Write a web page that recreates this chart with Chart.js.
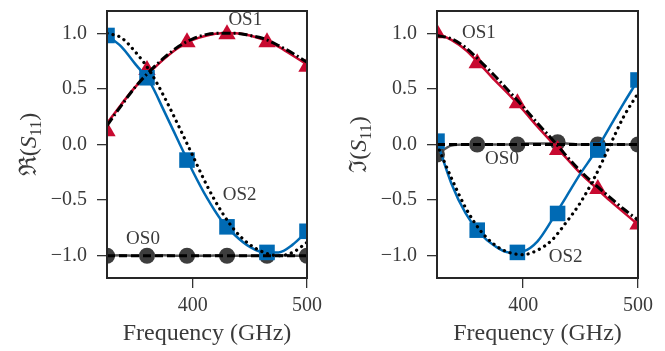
<!DOCTYPE html>
<html>
<head>
<meta charset="utf-8">
<script src="https://cdn.jsdelivr.net/npm/chart.js@4"></script>
<style>
  body { margin: 0; background: #fff; }
  #wrap { position: relative; width: 665px; height: 351px; }
  canvas { position: absolute; top: 0; }
</style>
</head>
<body>
<div id="wrap">
  <canvas id="re" width="330" height="351" style="left:0"></canvas>
  <canvas id="im" width="335" height="351" style="left:330px"></canvas>
</div>
<script>
// frequency grid of the curves (GHz) and of the markers
const freq = [325, 337.5, 350, 362.5, 375, 387.5, 400, 412.5, 425, 437.5, 450, 462.5, 475, 487.5, 500];
const markFreq = [325, 360, 395, 430, 465, 500];
const xTicks = [400, 500];
const yTicks = [-1, -0.5, 0, 0.5, 1];

// real part
const reOS0 = [-1.0, -0.995, -1.0, -1.0, -0.995, -1.0, -1.0, -1.0, -0.995, -1.0, -1.0, -1.0, -0.995, -1.0, -1.0];
const reOS0Ideal = [-1, -1, -1, -1, -1, -1, -1, -1, -1, -1, -1, -1, -1, -1, -1];
const reOS1 = [0.19, 0.36, 0.52, 0.65, 0.77, 0.87, 0.94, 0.98, 1.0, 1.0, 0.98, 0.94, 0.88, 0.80, 0.72];
const reOS1Ideal = [0.17, 0.35, 0.52, 0.66, 0.78, 0.88, 0.95, 0.99, 1.0, 1.0, 0.98, 0.95, 0.89, 0.82, 0.74];
const reOS2 = [0.98, 0.88, 0.72, 0.56, 0.30, 0.03, -0.24, -0.48, -0.68, -0.82, -0.92, -0.97, -0.97, -0.90, -0.78];
const reOS2Ideal = [1.0, 0.96, 0.83, 0.66, 0.43, 0.17, -0.10, -0.37, -0.60, -0.78, -0.90, -0.97, -1.0, -0.97, -0.88];
const reOS0Marks = [-1, -1, -1, -1, -1, -1];
const reOS1Marks = [0.12, 0.67, 0.92, 0.99, 0.92, 0.70];
const reOS2Marks = [0.98, 0.60, -0.14, -0.74, -0.97, -0.78];

// imaginary part
const imOS0 = [-0.09, -0.01, 0.0, 0.0, 0.0, 0.0, 0.01, 0.01, 0.01, 0.01, 0.0, 0.0, 0.0, 0.0, 0.0];
const imOS0Ideal = [0, 0, 0, 0, 0, 0, 0, 0, 0, 0, 0, 0, 0, 0, 0];
const imOS1 = [1.0, 0.94, 0.85, 0.72, 0.58, 0.45, 0.31, 0.16, 0.02, -0.12, -0.26, -0.38, -0.50, -0.61, -0.72];
const imOS1Ideal = [0.98, 0.95, 0.87, 0.75, 0.62, 0.48, 0.34, 0.19, 0.05, -0.10, -0.24, -0.36, -0.47, -0.58, -0.68];
const imOS2 = [0.03, -0.35, -0.62, -0.80, -0.91, -0.97, -0.96, -0.87, -0.68, -0.47, -0.26, -0.07, 0.15, 0.37, 0.58];
const imOS2Ideal = [0.0, -0.30, -0.57, -0.77, -0.90, -0.97, -0.99, -0.95, -0.86, -0.70, -0.52, -0.29, -0.02, 0.25, 0.46];
const imOS0Marks = [-0.09, 0.0, 0.0, 0.02, 0.0, 0.0];
const imOS1Marks = [1.0, 0.73, 0.37, -0.05, -0.40, -0.72];
const imOS2Marks = [0.03, -0.77, -0.97, -0.62, -0.05, 0.58];

const RED = '#c80a30';
const BLUE = '#006ab4';
const GREY = '#3d3d3d';
const SERIF = '"Liberation Serif", "DejaVu Serif", serif';

const pts = (xs, ys) => xs.map((x, i) => ({ x: x, y: ys[i] }));

function curve(ys, color, dash, cap, w) {
    return {
        data: pts(freq, ys), borderColor: color, borderWidth: w || 2.5, borderDash: dash || [],
        borderCapStyle: cap || 'butt', pointRadius: 0, cubicInterpolationMode: 'monotone', fill: false
    };
}

function marks(ys, color, style, r) {
    return {
        data: pts(markFreq, ys), showLine: false, pointStyle: style, pointRadius: r,
        pointBackgroundColor: color, pointBorderWidth: 0, borderColor: color
    };
}

// frame, curve labels and axis titles
const frameAndText = {
    id: 'frameAndText',
    afterDraw(chart, args, opts) {
        const { ctx, chartArea: a } = chart;
        const x = chart.scales.x, y = chart.scales.y;
        ctx.save();
        ctx.strokeStyle = '#262626';
        ctx.lineWidth = 2;
        ctx.strokeRect(a.left, a.top, a.right - a.left, a.bottom - a.top);

        ctx.fillStyle = '#3a3a3a';
        ctx.textAlign = 'center';
        ctx.textBaseline = 'middle';
        ctx.font = '19px ' + SERIF;
        opts.labels.forEach(l => ctx.fillText(l.text, x.getPixelForValue(l.f), y.getPixelForValue(l.v)));

        ctx.font = '24px ' + SERIF;
        ctx.fillText('Frequency (GHz)', (a.left + a.right) / 2, 334);

        // y title: sym ( S_11 )
        const parts = [
            [opts.sym, '24px ' + SERIF, 0],
            ['(', '24px ' + SERIF, 0],
            ['S', 'italic 24px ' + SERIF, 0],
            ['11', '16px ' + SERIF, 5],
            [')', '24px ' + SERIF, 0]
        ];
        let total = 0;
        parts.forEach(p => { ctx.font = p[1]; total += ctx.measureText(p[0]).width; });
        ctx.translate(36, (a.top + a.bottom) / 2);
        ctx.rotate(-Math.PI / 2);
        ctx.textAlign = 'left';
        ctx.textBaseline = 'alphabetic';
        let pos = -total / 2;
        parts.forEach(p => {
            ctx.font = p[1];
            ctx.fillText(p[0], pos, p[2]);
            pos += ctx.measureText(p[0]).width;
        });
        ctx.restore();
    }
};

function makeChart(id, s, sym, labels, rightPad) {
    return new Chart(document.getElementById(id), {
        type: 'line',
        data: {
            datasets: [
                curve(s.os1Ideal, '#000', [9, 3, 2, 3], 'butt', 3),
                curve(s.os0Ideal, '#000', [8, 4], 'butt', 3),
                curve(s.os2Ideal, '#000', [0.1, 6], 'round', 3.2),
                marks(s.os2Marks, BLUE, 'rect', 11),
                curve(s.os2, BLUE),
                marks(s.os1Marks, RED, 'triangle', 10),
                curve(s.os1, RED),
                marks(s.os0Marks, GREY, 'circle', 8),
                curve(s.os0, '#555')
            ]
        },
        options: {
            responsive: false,
            animation: false,
            layout: { padding: { top: 6, right: rightPad, left: 0, bottom: 0 } },
            plugins: { legend: { display: false }, tooltip: { enabled: false }, frameAndText: { sym: sym, labels: labels } },
            scales: {
                x: {
                    type: 'linear', min: 325, max: 500,
                    afterFit: sc => { sc.height = 73; sc.paddingLeft = 0; sc.paddingRight = 0; },
                    afterBuildTicks: sc => { sc.ticks = xTicks.map(v => ({ value: v })); },
                    grid: { drawOnChartArea: false, tickLength: 10, color: '#333', lineWidth: 1.3 },
                    border: { display: false },
                    ticks: { font: { family: SERIF, size: 20 }, color: '#3a3a3a', padding: 6, maxRotation: 0 }
                },
                y: {
                    min: -1.2, max: 1.2,
                    afterFit: sc => { sc.width = 107; sc.paddingTop = 0; sc.paddingBottom = 0; },
                    afterBuildTicks: sc => { sc.ticks = yTicks.map(v => ({ value: v })); },
                    grid: { drawOnChartArea: false, tickLength: 10, color: '#333', lineWidth: 1.3 },
                    border: { display: false },
                    ticks: {
                        font: { family: SERIF, size: 20 }, color: '#3a3a3a', padding: 10,
                        callback: v => (v < 0 ? '\u2212' : '') + Math.abs(v).toFixed(1)
                    }
                }
            }
        },
        plugins: [frameAndText]
    });
}

makeChart('re', {
    os0: reOS0, os0Ideal: reOS0Ideal, os1: reOS1, os1Ideal: reOS1Ideal, os2: reOS2, os2Ideal: reOS2Ideal,
    os0Marks: reOS0Marks, os1Marks: reOS1Marks, os2Marks: reOS2Marks
}, '\u211C', [
    { text: 'OS1', f: 446, v: 1.115 },
    { text: 'OS2', f: 441, v: -0.45 },
    { text: 'OS0', f: 356.5, v: -0.85 }
], 23);

makeChart('im', {
    os0: imOS0, os0Ideal: imOS0Ideal, os1: imOS1, os1Ideal: imOS1Ideal, os2: imOS2, os2Ideal: imOS2Ideal,
    os0Marks: imOS0Marks, os1Marks: imOS1Marks, os2Marks: imOS2Marks
}, '\u2111', [
    { text: 'OS1', f: 361.5, v: 1.0 },
    { text: 'OS0', f: 381.6, v: -0.13 },
    { text: 'OS2', f: 437, v: -1.01 }
], 27);
</script>
</body>
</html>
